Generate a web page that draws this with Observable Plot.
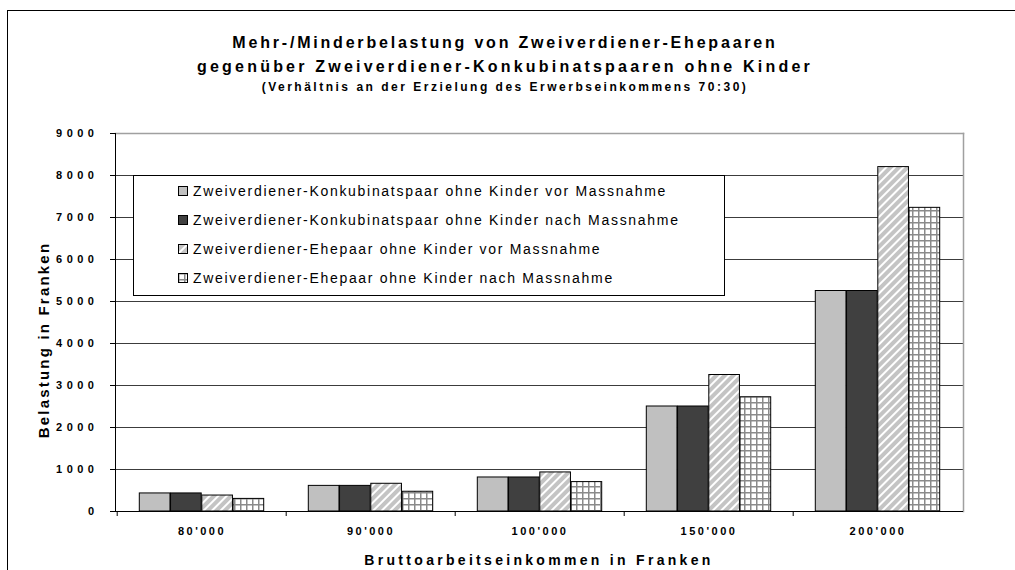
<!DOCTYPE html>
<html>
<head>
<meta charset="utf-8">
<script src="https://cdn.jsdelivr.net/npm/d3@7"></script>
<script src="https://cdn.jsdelivr.net/npm/@observablehq/plot@0.6"></script>
<style>
  html, body { margin: 0; padding: 0; background: #fff; overflow: hidden; }
  body { font-family: "Liberation Sans", Arial, sans-serif; color: #000; }
  #wrap { position: relative; width: 1015px; height: 570px; overflow: hidden; }
  #frame { position: absolute; left: 7px; top: 10px; width: 1030px; height: 600px; border: 1px solid #000; box-sizing: border-box; }
  #wrap > svg.plot { position: absolute; left: 0; top: 0; }
  .t { position: absolute; left: 7px; width: 996px; text-align: center; font-weight: bold; white-space: nowrap; }
  #t1 { top: 35px; font-size: 16px; line-height: 16px; letter-spacing: 2.8px; }
  #t2 { top: 59px; font-size: 16px; line-height: 16px; letter-spacing: 3.2px; }
  #t3 { top: 81px; font-size: 12px; line-height: 12px; letter-spacing: 2.5px; }
  #ytitle { position: absolute; left: 43px; top: 340px; transform: translate(-50%, -50%) rotate(-90deg); font-weight: bold; font-size: 15px; line-height: 15px; letter-spacing: 2.2px; white-space: nowrap; }
  #xtitle { position: absolute; left: 539px; top: 553px; transform: translateX(-50%); font-weight: bold; font-size: 14px; line-height: 14px; letter-spacing: 3.3px; white-space: nowrap; }
  #legend { position: absolute; left: 133px; top: 175px; width: 592px; height: 121px; border: 1px solid #000; box-sizing: border-box; background: #fff; }
  .li { position: absolute; left: 44px; height: 14px; line-height: 14px; font-size: 14px; letter-spacing: 1.7px; white-space: nowrap; }
  .li svg { position: absolute; left: 0; top: 2px; }
  .li span { position: absolute; left: 15px; top: 0; }
  svg [aria-label="y-axis tick label"] text { letter-spacing: 4.5px; }
  svg [aria-label="x-axis tick label"] text { letter-spacing: 2.5px; }
</style>
</head>
<body>
<svg width="0" height="0" style="position:absolute">
  <defs>
    <pattern id="pStripe" patternUnits="userSpaceOnUse" width="6" height="6" patternTransform="rotate(45)">
      <rect width="6" height="6" fill="#c4c4c4"></rect>
      <rect width="2" height="6" fill="#ffffff"></rect>
    </pattern>
    <pattern id="pGrid" patternUnits="userSpaceOnUse" width="6" height="6">
      <rect width="6" height="6" fill="#ffffff"></rect>
      <path d="M0,0.75H6M0.75,0V6" stroke="#8a8a8a" stroke-width="1.5" fill="none"></path>
    </pattern>
  </defs>
</svg>
<div id="wrap">
  <div id="frame"></div>
</div>
<script>
// ---- data ----
const categories = ["80'000", "90'000", "100'000", "150'000", "200'000"];
const seriesNames = [
  "Zweiverdiener-Konkubinatspaar ohne Kinder vor Massnahme",
  "Zweiverdiener-Konkubinatspaar ohne Kinder nach Massnahme",
  "Zweiverdiener-Ehepaar ohne Kinder vor Massnahme",
  "Zweiverdiener-Ehepaar ohne Kinder nach Massnahme"
];
const konkubinatVor  = [430, 610, 810, 2500, 5250];
const konkubinatNach = [430, 610, 810, 2500, 5250];
const ehepaarVor     = [380, 660, 930, 3250, 8200];
const ehepaarNach    = [300, 470, 700, 2720, 7230];
const yTickValues = [0, 1000, 2000, 3000, 4000, 5000, 6000, 7000, 8000, 9000];
const titleLines = [
  "Mehr-/Minderbelastung von Zweiverdiener-Ehepaaren",
  "gegenüber Zweiverdiener-Konkubinatspaaren ohne Kinder",
  "(Verhältnis an der Erzielung des Erwerbseinkommens 70:30)"
];
const yTitle = "Belastung in Franken";
const xTitle = "Bruttoarbeitseinkommen in Franken";

// ---- styles ----
const fills = ["#c0c0c0", "#404040", "url(#pStripe)", "url(#pGrid)"];
const W = 1015, H = 570, mL = 115, mR = 52, mT = 133, mB = 59;
const step = (W - mL - mR) / categories.length;
const barW = 31.25;
const pad = (step - 4 * barW) / 2;

const seriesValues = [konkubinatVor, konkubinatNach, ehepaarVor, ehepaarNach];
const barMarks = seriesValues.map((vals, i) =>
  Plot.barY(categories.map((c, j) => ({cat: c, value: vals[j]})), {
    x: "cat", y: "value", fill: fills[i], stroke: "#000", strokeWidth: 1,
    insetLeft: pad + i * barW, insetRight: step - pad - (i + 1) * barW
  })
);

const chart = Plot.plot({
  width: W, height: H,
  marginLeft: mL, marginRight: mR, marginTop: mT, marginBottom: mB,
  x: {type: "band", domain: categories, padding: 0},
  y: {domain: [0, 9000]},
  style: {fontFamily: '"Liberation Sans", Arial, sans-serif', fontSize: "11px", fontWeight: "bold", color: "#000", background: "transparent"},
  marks: [
    Plot.ruleY(yTickValues.filter(d => d > 0 && d < 9000), {stroke: "#3c3c3c", strokeWidth: 1}),
    Plot.frame({anchor: "top", stroke: "#a0a0a0", strokeWidth: 1.5}),
    Plot.frame({anchor: "right", stroke: "#a0a0a0", strokeWidth: 1.5}),
    ...barMarks,
    Plot.ruleY([0], {stroke: "#000", strokeWidth: 1}),
    Plot.frame({anchor: "left", stroke: "#000", strokeWidth: 1}),
    Plot.axisY(yTickValues, {tickSize: 5, tickPadding: 12, tickFormat: d => String(d), label: null}),
    Plot.axisX({tickSize: 5, fill: "none", dx: -step / 2, label: null}),
    Plot.axisX({tickSize: 0, tickPadding: 16, label: null})
  ]
});

const wrap = document.getElementById("wrap");
wrap.append(chart);

// titles
titleLines.forEach((txt, i) => {
  const d = document.createElement("div");
  d.className = "t"; d.id = "t" + (i + 1); d.textContent = txt;
  wrap.append(d);
});
const yt = document.createElement("div"); yt.id = "ytitle"; yt.textContent = yTitle; wrap.append(yt);
const xt = document.createElement("div"); xt.id = "xtitle"; xt.textContent = xTitle; wrap.append(xt);

// legend
const legend = document.createElement("div"); legend.id = "legend";
const rowCenters = [16, 45, 74, 103];
seriesNames.forEach((name, i) => {
  const row = document.createElement("div");
  row.className = "li";
  row.style.top = (rowCenters[i] - 8) + "px";
  row.innerHTML = `<svg width="10" height="10"><rect x="0.5" y="0.5" width="9" height="9" fill="${fills[i]}" stroke="#000" stroke-width="1"></rect></svg><span></span>`;
  row.querySelector("span").textContent = name;
  legend.append(row);
});
wrap.append(legend);
</script>
</body>
</html>
